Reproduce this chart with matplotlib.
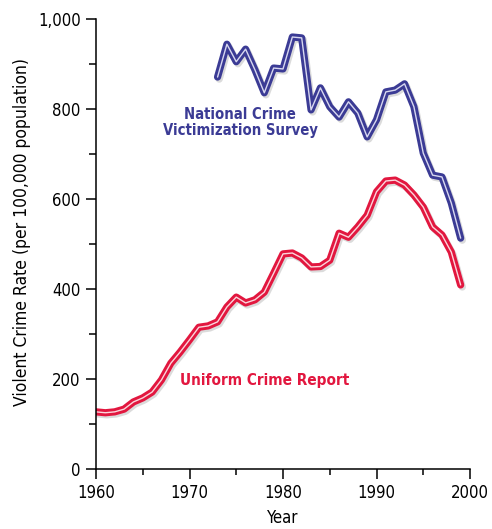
import matplotlib
matplotlib.use('Agg')
import matplotlib.pyplot as plt
import matplotlib.patheffects as pe
from matplotlib.ticker import MultipleLocator, FuncFormatter

plt.rcParams['font.stretch'] = 'condensed'

# Uniform Crime Report, 1960-1999
ucrYears = list(range(1960, 2000))
ucrRates = [127, 125, 127, 133, 149, 158, 171, 198, 235, 260,
            287, 315, 318, 327, 360, 382, 369, 376, 393, 435,
            478, 480, 469, 449, 450, 464, 524, 515, 538, 564,
            616, 640, 642, 631, 609, 582, 538, 520, 482, 409]

# National Crime Victimization Survey, 1973-1999
ncvsYears = list(range(1973, 2000))
ncvsRates = [871, 944, 905, 933, 887, 836, 891, 889, 960, 958,
             798, 847, 805, 782, 816, 791, 738, 776, 838, 842,
             856, 805, 702, 653, 649, 591, 513]

RED = '#e2173f'
BLUE = '#3b3b95'

def drawLine(ax, xValues, yValues, color, innerColor):
    effects = [
        pe.Stroke(offset=(1.2, -1.5), linewidth=5.2, foreground='#999999', alpha=0.35),
        pe.Stroke(linewidth=5.2, foreground=color),
        pe.Normal(),
    ]
    line, = ax.plot(xValues, yValues, color=innerColor, linewidth=1.0,
                    solid_joinstyle='round', solid_capstyle='round')
    line.set_path_effects(effects)

dpi = 100
fig = plt.figure(figsize=(492/dpi, 529/dpi), dpi=dpi)
ax = fig.add_axes([96/492, 60/529, 374/492, 450/529])

drawLine(ax, ucrYears, ucrRates, RED, '#fbd6dc')
drawLine(ax, ncvsYears, ncvsRates, BLUE, '#d8d8f0')

ax.text(1975.4, 770, 'National Crime\nVictimization Survey', color=BLUE,
        fontsize=10.6, fontweight='bold', ha='center', va='center',
        multialignment='center', linespacing=1.15)
ax.text(1978.0, 196, 'Uniform Crime Report', color=RED,
        fontsize=11, fontweight='bold', ha='center', va='center')

ax.set_xlim(1960, 2000)
ax.set_ylim(0, 1000)
ax.xaxis.set_major_locator(MultipleLocator(10))
ax.xaxis.set_minor_locator(MultipleLocator(5))
ax.yaxis.set_major_locator(MultipleLocator(200))
ax.yaxis.set_minor_locator(MultipleLocator(100))
ax.yaxis.set_major_formatter(FuncFormatter(lambda v, p: '{:,.0f}'.format(v)))

for side in ['top', 'right']:
    ax.spines[side].set_visible(False)
for side in ['left', 'bottom']:
    ax.spines[side].set_linewidth(1.1)

ax.tick_params(axis='both', which='major', length=7.5, width=1.1, labelsize=12)
ax.tick_params(axis='y', which='minor', length=5, width=1.1)
ax.tick_params(axis='x', which='minor', length=4, width=1.1)

ax.set_xlabel('Year', fontsize=12)
ax.xaxis.set_label_coords(0.5, -0.088)
ax.set_ylabel('Violent Crime Rate (per 100,000 population)', fontsize=12.5)
ax.yaxis.set_label_coords(-0.175, 0.527)

fig.savefig('out.png', dpi=dpi)
